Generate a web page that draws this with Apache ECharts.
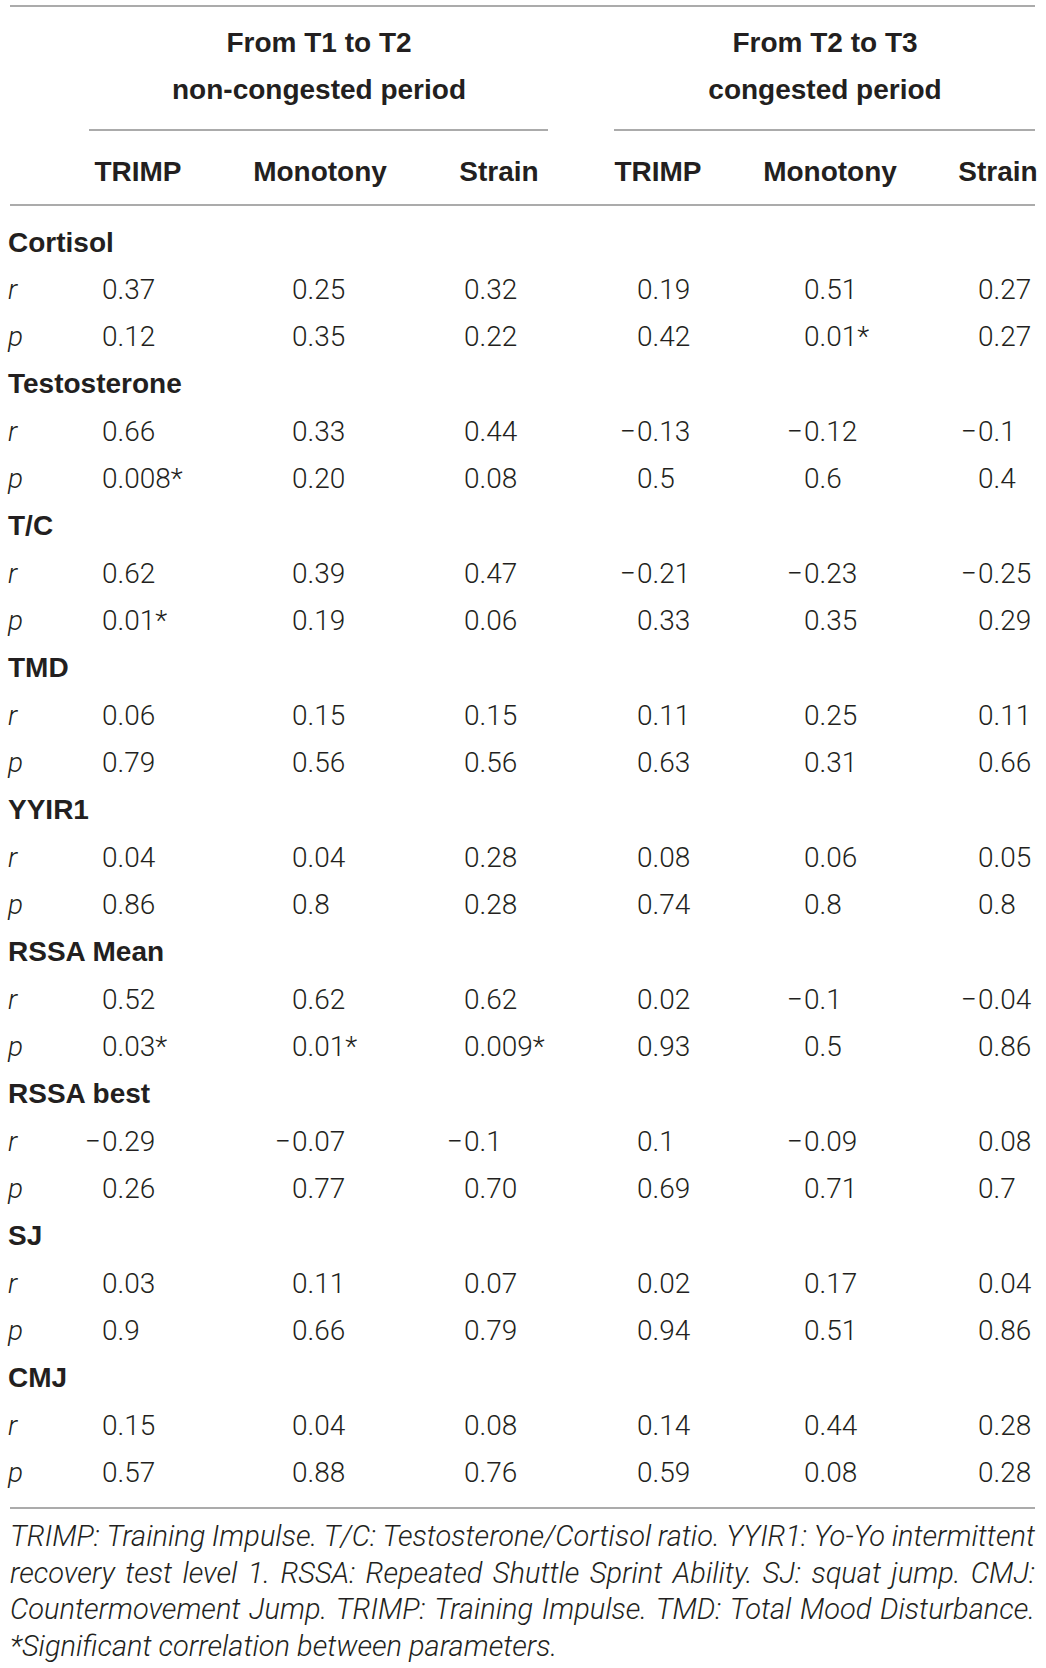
<!DOCTYPE html>
<html>
<head>
<meta charset="utf-8">
<script src="https://cdn.jsdelivr.net/npm/echarts@6/dist/echarts.min.js"></script>
<style>
  html, body { margin: 0; padding: 0; background: #fff; }
  #chart { width: 1046px; height: 1668px; }
</style>
</head>
<body>
<div id="chart"></div>
<script>
// Table data
const periods = [['From T1 to T2', 'non-congested period'], ['From T2 to T3', 'congested period']];
const columns = ['TRIMP', 'Monotony', 'Strain', 'TRIMP', 'Monotony', 'Strain'];
const variables = ['Cortisol', 'Testosterone', 'T/C', 'TMD', 'YYIR1', 'RSSA Mean', 'RSSA best', 'SJ', 'CMJ'];
const rValues = [
    ['0.37', '0.25', '0.32', '0.19', '0.51', '0.27'],
    ['0.66', '0.33', '0.44', '−0.13', '−0.12', '−0.1'],
    ['0.62', '0.39', '0.47', '−0.21', '−0.23', '−0.25'],
    ['0.06', '0.15', '0.15', '0.11', '0.25', '0.11'],
    ['0.04', '0.04', '0.28', '0.08', '0.06', '0.05'],
    ['0.52', '0.62', '0.62', '0.02', '−0.1', '−0.04'],
    ['−0.29', '−0.07', '−0.1', '0.1', '−0.09', '0.08'],
    ['0.03', '0.11', '0.07', '0.02', '0.17', '0.04'],
    ['0.15', '0.04', '0.08', '0.14', '0.44', '0.28']
];
const pValues = [
    ['0.12', '0.35', '0.22', '0.42', '0.01*', '0.27'],
    ['0.008*', '0.20', '0.08', '0.5', '0.6', '0.4'],
    ['0.01*', '0.19', '0.06', '0.33', '0.35', '0.29'],
    ['0.79', '0.56', '0.56', '0.63', '0.31', '0.66'],
    ['0.86', '0.8', '0.28', '0.74', '0.8', '0.8'],
    ['0.03*', '0.01*', '0.009*', '0.93', '0.5', '0.86'],
    ['0.26', '0.77', '0.70', '0.69', '0.71', '0.7'],
    ['0.9', '0.66', '0.79', '0.94', '0.51', '0.86'],
    ['0.57', '0.88', '0.76', '0.59', '0.08', '0.28']
];
const notes = [
    'TRIMP: Training Impulse. T/C: Testosterone/Cortisol ratio. YYIR1: Yo-Yo intermittent',
    'recovery test level 1. RSSA: Repeated Shuttle Sprint Ability. SJ: squat jump. CMJ:',
    'Countermovement Jump. TRIMP: Training Impulse. TMD: Total Mood Disturbance.',
    '*Significant correlation between parameters.'
];

// Layout
const W = 1046;
const labelX = 8;
const colX = [102, 292, 464, 637, 804, 978];
const headX = [138, 320, 499, 658, 830, 998];
const periodX = [319, 825];
const ruleL = 10, ruleR = 1035;
const ink = '#231f20';
const ruleColor = '#8f8f8f';
const boldFont = 'bold 28px "Liberation Sans", Arial, sans-serif';
const numFont = '300 28px Roboto, "Liberation Sans", sans-serif';
const statFont = 'italic 300 28px Roboto, "Liberation Sans", sans-serif';
const noteFont = 'italic 300 29px Roboto, "Liberation Sans", sans-serif';

// Build rows and cells
const rowLabels = [];
const cells = [];
variables.forEach((name, i) => {
    const base = rowLabels.length;
    rowLabels.push(name, 'r', 'p');
    cells.push({col: -1, row: base, text: name, font: boldFont});
    cells.push({col: -1, row: base + 1, text: 'r', font: statFont});
    cells.push({col: -1, row: base + 2, text: 'p', font: statFont});
    rValues[i].forEach((v, c) => cells.push({col: c, row: base + 1, text: v, font: numFont}));
    pValues[i].forEach((v, c) => cells.push({col: c, row: base + 2, text: v, font: numFont}));
});

const rowH = 47.33;
const gridTop = 242 - rowH / 2;

const chart = echarts.init(document.getElementById('chart'), null, {renderer: 'svg'});

function textEl(text, x, y, font, align) {
    return {
        type: 'text',
        style: {text, x, y, font, fill: ink, align, verticalAlign: 'middle'}
    };
}

const graphics = [];
const line = (x1, y1, x2, y2) => graphics.push({
    type: 'line',
    shape: {x1, y1, x2, y2},
    style: {stroke: ruleColor, lineWidth: 1.5}
});
line(ruleL, 6, ruleR, 6);
line(89, 130, 548, 130);
line(614, 130, ruleR, 130);
line(ruleL, 205, ruleR, 205);
line(ruleL, 1508, ruleR, 1508);
periods.forEach((p, i) => {
    graphics.push(textEl(p[0], periodX[i], 42, boldFont, 'center'));
    graphics.push(textEl(p[1], periodX[i], 89, boldFont, 'center'));
});
columns.forEach((c, i) => graphics.push(textEl(c, headX[i], 171, boldFont, 'center')));

// Footnote: justified lines except the last one
const measure = document.createElement('canvas').getContext('2d');
measure.font = noteFont;
notes.forEach((n, i) => {
    const y = 1536 + i * 36.7;
    if (i === notes.length - 1) {
        graphics.push(textEl(n, ruleL, y, noteFont, 'left'));
        return;
    }
    const words = n.split(' ');
    const widths = words.map(w => measure.measureText(w).width);
    const total = widths.reduce((a, b) => a + b, 0);
    const gap = (ruleR - ruleL - total) / (words.length - 1);
    let x = ruleL;
    words.forEach((w, k) => {
        graphics.push(textEl(w, x, y, noteFont, 'left'));
        x += widths[k] + gap;
    });
});

chart.setOption({
    animation: false,
    grid: {left: 0, right: 0, top: gridTop, height: rowH * rowLabels.length},
    xAxis: {type: 'value', min: 0, max: W, show: false},
    yAxis: {type: 'category', data: rowLabels, inverse: true, show: false},
    graphic: graphics,
    series: [{
        type: 'custom',
        data: cells.map(c => [c.col < 0 ? labelX : colX[c.col], c.row]),
        renderItem: (params, api) => {
            const cell = cells[params.dataIndex];
            const pt = api.coord([api.value(0), api.value(1)]);
            if (cell.col >= 0 && cell.text[0] === '−') {
                return {
                    type: 'group',
                    children: [
                        textEl('−', pt[0] - 1, pt[1], cell.font, 'right'),
                        textEl(cell.text.slice(1), pt[0], pt[1], cell.font, 'left')
                    ]
                };
            }
            return textEl(cell.text, pt[0], pt[1], cell.font, 'left');
        }
    }]
});
</script>
</body>
</html>
